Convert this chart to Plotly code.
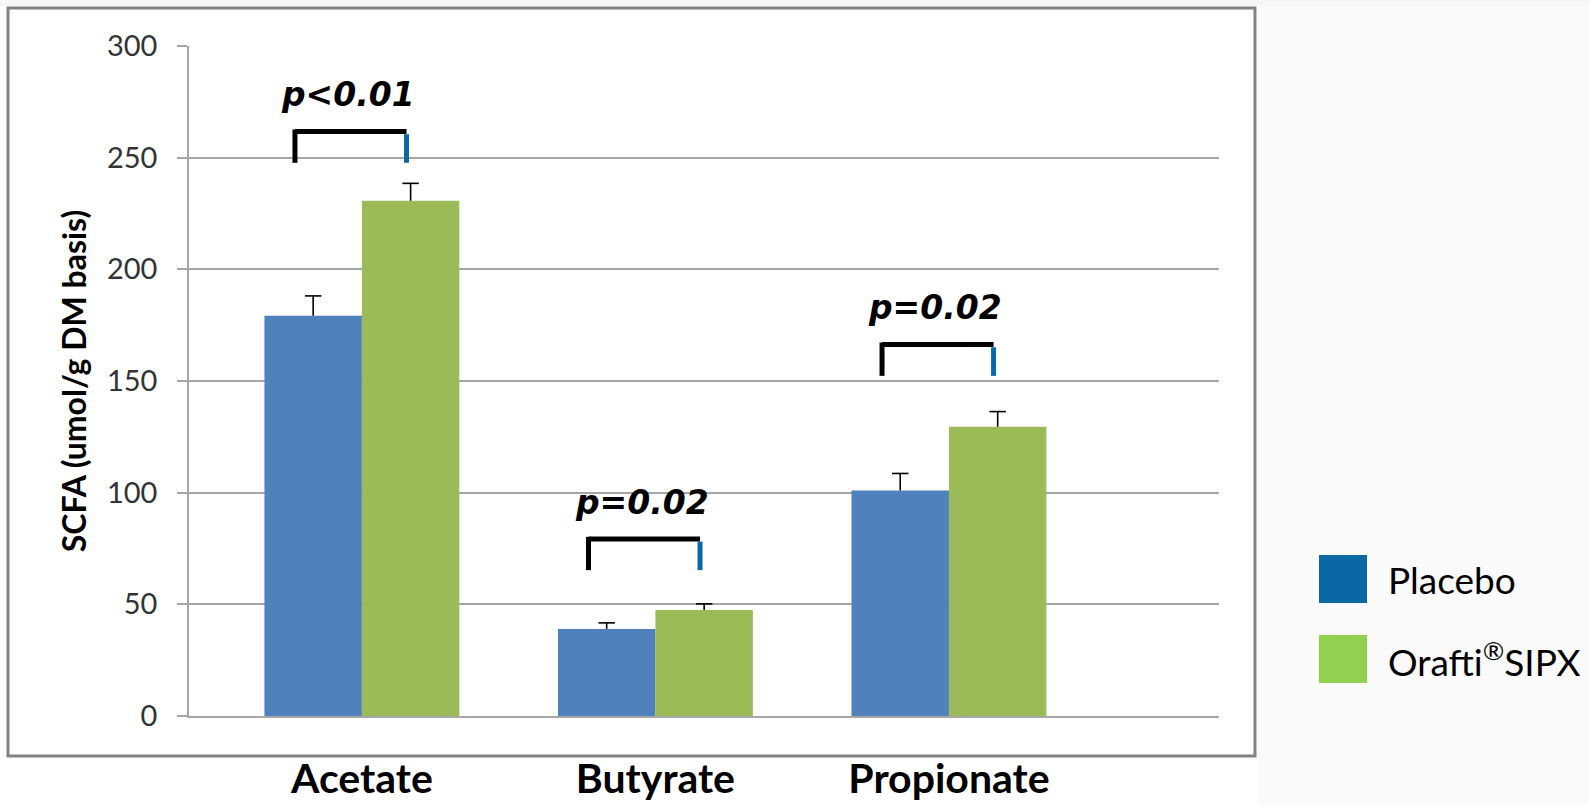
import plotly.graph_objects as go

categories = ["Acetate", "Butyrate", "Propionate"]
placebo = [179.2, 39.0, 101.0]
placebo_err = [8.9, 2.7, 7.6]
sipx = [230.7, 47.5, 129.5]
sipx_err = [7.8, 2.7, 6.8]
p_labels = ["p<0.01", "p=0.02", "p=0.02"]
bracket_top = [261.7, 79.3, 166.3]
y_ticks = [0, 50, 100, 150, 200, 250, 300]
series_names = ["Placebo", "Orafti<sup>®</sup>SIPX"]

BLUE_BAR = "#4f81bd"
GREEN_BAR = "#9bbb59"
BLUE_LEG = "#0a68a5"
GREEN_LEG = "#92d050"
GRID = "#a6a6a6"

W, H = 1589, 805
L, R, T, B = 189, 1219, 46, 716
BW = 0.332
xpos = list(range(len(categories)))


def px_x(px):
    return (px - L) / (R - L)


def px_y(py):
    return (B - py) / (B - T)


fig = go.Figure()
fig.add_trace(go.Bar(x=xpos, y=placebo, width=BW, offset=-BW, marker_color=BLUE_BAR,
                     marker_line_width=0, name="Placebo", showlegend=False))
fig.add_trace(go.Bar(x=xpos, y=sipx, width=BW, offset=0, marker_color=GREEN_BAR,
                     marker_line_width=0, name="Orafti®SIPX", showlegend=False))

# error bars (positive only) drawn as line segments
capw = 0.028
ex, ey = [], []
for vals, errs, off in ((placebo, placebo_err, -BW / 2), (sipx, sipx_err, BW / 2)):
    for i, (v, e) in enumerate(zip(vals, errs)):
        xc = i + off
        ex += [xc, xc, None, xc - capw, xc + capw, None]
        ey += [v, v + e, None, v + e, v + e, None]
fig.add_trace(go.Scatter(x=ex, y=ey, mode="lines", line=dict(color="#000000", width=1.6),
                         showlegend=False, hoverinfo="skip"))

shapes = []
# textured background strips outside the chart box
shapes.append(dict(type="rect", xref="paper", yref="paper", x0=px_x(1258), x1=px_x(W),
                   y0=px_y(H), y1=px_y(0), fillcolor="#fafafa", line_width=0, layer="below"))
shapes.append(dict(type="rect", xref="paper", yref="paper", x0=px_x(0), x1=px_x(W),
                   y0=px_y(6), y1=px_y(0), fillcolor="#f6f6f6", line_width=0, layer="below"))
# chart box
shapes.append(dict(type="rect", xref="paper", yref="paper",
                   x0=px_x(8), x1=px_x(1255), y0=px_y(756), y1=px_y(8),
                   line=dict(color="#828282", width=3), fillcolor="#ffffff", layer="below"))

annotations = []
# significance brackets
drop = 14.0
for i, (lab, top) in enumerate(zip(p_labels, bracket_top)):
    xl = i - 0.228
    xr = i + 0.152
    shapes.append(dict(type="line", xref="x", yref="y", x0=xl, x1=xr, y0=top, y1=top,
                       line=dict(color="#000000", width=5)))
    shapes.append(dict(type="line", xref="x", yref="y", x0=xl, x1=xl, y0=top + 0.9, y1=top - drop,
                       line=dict(color="#000000", width=5)))
    shapes.append(dict(type="line", xref="x", yref="y", x0=xr, x1=xr, y0=top - 1.2, y1=top - drop,
                       line=dict(color=BLUE_LEG, width=5)))
    annotations.append(dict(x=i - 0.046, y=top + 16.5, xref="x", yref="y",
                            text="<b><i>" + lab + "</i></b>",
                            showarrow=False, xanchor="center", yanchor="middle",
                            font=dict(family="DejaVu Sans", size=33, color="#000000")))

# legend (custom, outside the chart box)
leg_cols = [BLUE_LEG, GREEN_LEG]
leg_y = [579, 659]
for name, col, yc in zip(series_names, leg_cols, leg_y):
    shapes.append(dict(type="rect", xref="paper", yref="paper",
                       x0=px_x(1319), x1=px_x(1367), y0=px_y(yc + 24), y1=px_y(yc - 24),
                       fillcolor=col, line_width=0))
    annotations.append(dict(x=px_x(1386), y=px_y(yc), xref="paper", yref="paper", text=name,
                            showarrow=False, xanchor="left", yanchor="middle",
                            font=dict(family="Lato", size=37, color="#000000")))

fig.update_layout(
    template="none",
    width=W, height=H,
    margin=dict(l=L, r=W - R, t=T, b=H - B, pad=0, autoexpand=False),
    paper_bgcolor="#ffffff",
    plot_bgcolor="#ffffff",
    barmode="overlay",
    showlegend=False,
    shapes=shapes,
    annotations=annotations,
    xaxis=dict(range=[-0.589, 2.920], tickmode="array", tickvals=xpos,
               ticktext=["<b>" + c + "</b>" for c in categories],
               showgrid=False, zeroline=False, showline=True, linecolor=GRID, linewidth=2,
               ticks="", tickfont=dict(family="Lato", size=41, color="#000000"),
               ticklabelstandoff=26, automargin=False, fixedrange=True),
    yaxis=dict(range=[0, 300], tickmode="array", tickvals=y_ticks,
               showgrid=True, gridcolor=GRID, gridwidth=2, zeroline=False,
               showline=True, linecolor=GRID, linewidth=1.5,
               ticks="outside", ticklen=10, tickcolor=GRID, tickwidth=1.5,
               tickfont=dict(family="Lato", size=29, color="#333333"),
               ticklabelstandoff=14, automargin=False,
               title=dict(text="<b>SCFA (umol/g DM basis)</b>", standoff=11,
                          font=dict(family="Lato", size=32, color="#000000")),
               fixedrange=True),
)

fig.write_html("out.html", config={"displayModeBar": False},
               post_script="document.body.style.margin='0';document.body.style.padding='0';")
